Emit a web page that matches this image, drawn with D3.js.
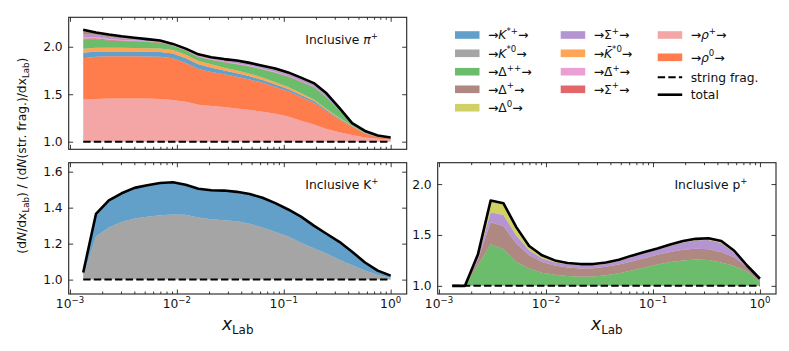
<!DOCTYPE html>
<html>
<head>
<meta charset="utf-8">
<script src="https://cdn.jsdelivr.net/npm/d3@7"></script>
<style>
  body { margin: 0; background: #fff; }
  svg { display: block; font-family: "DejaVu Sans", sans-serif; }
</style>
</head>
<body>
<svg id="chart" width="789" height="351"></svg>
<script>
// bin centres (x_Lab)
const xLab = [0.00133, 0.00175, 0.00231, 0.00304, 0.00401, 0.00528, 0.00696, 0.00918, 0.0121, 0.0159,
    0.0210, 0.0277, 0.0364, 0.0480, 0.0633, 0.0834, 0.110, 0.145, 0.191, 0.251, 0.331, 0.436, 0.575, 0.757, 1.0];

// Inclusive pi+ : contributions on top of string fragmentation (=1)
const piRhoPlus = [.445, .45, .455, .455, .455, .455, .45, .44, .42, .39, .375, .365, .35, .335, .315, .295, .265, .22, .18, .135, .1, .07, .045, .03, .02];
const piRho0 = [.433, .445, .445, .445, .445, .443, .445, .44, .41, .375, .36, .345, .335, .32, .305, .28, .265, .25, .23, .185, .135, .09, .04, .02, .012];
const piKstarPlus = [.06, .055, .05, .05, .05, .05, .05, .05, .05, .05, .045, .04, .035, .033, .03, .028, .025, .022, .02, .015, .01, .005, .004, .003, .003];
const piKbarStar0 = [.04, .04, .04, .04, .038, .037, .036, .035, .035, .035, .035, .03, .03, .028, .025, .022, .02, .018, .015, .01, .007, .004, .003, .002, .002];
const piDeltaPP = [.10, .09, .075, .07, .068, .065, .06, .045, .045, .04, .045, .055, .065, .075, .085, .10, .11, .12, .13, .12, .08, .02, .012, .006, .004];
const piSigmabarP = [.01, .01, .008, .006, .005, .005, .005, .004, .004, .004, .004, .004, .004, .004, .004, .004, .003, .003, .003, .002, .002, .001, .002, .001, .001];
const piDeltabarP = [.01, .01, .008, .006, .005, .005, .005, .004, .004, .004, .004, .004, .004, .004, .004, .004, .003, .003, .003, .002, .002, .001, .002, .001, .001];
const piSigmaP = [.03, .025, .02, .018, .015, .012, .01, .008, .008, .008, .01, .012, .015, .017, .018, .02, .022, .025, .025, .025, .015, .003, .002, .001, .001];
const piDeltaP = [.052, .025, .027, .02, .014, .008, .004, .004, .004, .014, .012, .015, .017, .014, .014, .017, .017, .014, .011, .016, .006, .001, .003, .001, .001];

// Inclusive K+
const kKstar0 = [.02, .24, .29, .32, .34, .35, .358, .362, .36, .345, .335, .33, .325, .31, .29, .265, .24, .205, .175, .145, .11, .08, .05, .025, .01];
const kKstarPlus = [.02, .125, .15, .16, .17, .175, .179, .179, .167, .16, .162, .165, .163, .166, .165, .16, .15, .145, .125, .11, .10, .075, .045, .025, .012];

// Inclusive p+
const pDeltaPP = [0, 0, .2, .408, .36, .235, .17, .13, .11, .098, .09, .092, .105, .125, .15, .18, .21, .235, .25, .258, .255, .23, .195, .14, .04];
const pDeltaP = [0, 0, .055, .218, .225, .18, .13, .105, .09, .082, .08, .08, .082, .085, .09, .092, .095, .098, .105, .107, .105, .10, .085, .045, .016];
const pSigmaP = [0, 0, .03, .097, .11, .08, .05, .037, .033, .032, .032, .03, .03, .035, .045, .048, .05, .06, .07, .082, .09, .09, .045, .01, .006];
const pDelta0 = [0, 0, .022, .115, .116, .082, .041, .028, .017, .013, .012, .012, .012, .012, .012, .013, .012, .013, .015, .015, .018, .02, .02, .005, .008];

const piTicks = [1.0, 1.5, 2.0];
const kTicks = [1.0, 1.2, 1.4, 1.6];
const pTicks = [1.0, 1.5, 2.0];
const xMajorTicks = [1e-3, 1e-2, 1e-1, 1e0];
const xTickExp = ['\u22123', '\u22122', '\u22121', '0'];

// channel colours (tab10 style), drawn with alpha 0.7
const colors = {
    KstarPlus: '#1f77b4', Kstar0: '#7f7f7f', DeltaPP: '#2ca02c', DeltaP: '#8c564b', Delta0: '#bcbd22',
    SigmaP: '#9467bd', KbarStar0: '#ff7f0e', DeltabarP: '#e377c2', SigmabarP: '#d62728',
    RhoPlus: '#f08080', Rho0: '#ff4500'
};

// legend labels, mathtext-like pieces
const legendLabels = {
    KstarPlus: [{t: '\u2192'}, {t: 'K', it: 1}, {t: '*+', sup: 1}, {t: '\u2192'}],
    Kstar0: [{t: '\u2192'}, {t: 'K', it: 1}, {t: '*0', sup: 1}, {t: '\u2192'}],
    DeltaPP: [{t: '\u2192\u0394'}, {t: '++', sup: 1}, {t: '\u2192'}],
    DeltaP: [{t: '\u2192\u0394'}, {t: '+', sup: 1}, {t: '\u2192'}],
    Delta0: [{t: '\u2192\u0394'}, {t: '0', sup: 1}, {t: '\u2192'}],
    SigmaP: [{t: '\u2192\u03a3'}, {t: '+', sup: 1}, {t: '\u2192'}],
    KbarStar0: [{t: '\u2192'}, {t: 'K\u0304', it: 1}, {t: '*0', sup: 1}, {t: '\u2192'}],
    DeltabarP: [{t: '\u2192\u0394\u0304'}, {t: '+', sup: 1}, {t: '\u2192'}],
    SigmabarP: [{t: '\u2192\u03a3\u0304'}, {t: '+', sup: 1}, {t: '\u2192'}],
    RhoPlus: [{t: '\u2192'}, {t: '\u03c1', it: 1}, {t: '+', sup: 1}, {t: '\u2192'}],
    Rho0: [{t: '\u2192'}, {t: '\u03c1', it: 1}, {t: '0', sup: 1}, {t: '\u2192'}]
};
const legendCol1 = ['KstarPlus', 'Kstar0', 'DeltaPP', 'DeltaP', 'Delta0'];
const legendCol2 = ['SigmaP', 'KbarStar0', 'DeltabarP', 'SigmabarP'];
const legendCol3 = ['RhoPlus', 'Rho0'];

const svg = d3.select('#chart');
const xDomain = [Math.pow(10, -3.012), Math.pow(10, 0.15)];
const fs = 12.3;

// writes pieces of text with italic / sup / sub
function richText(text, parts, size) {
    let shift = 0;
    parts.forEach(p => {
        const target = p.sup ? -0.42 * size : (p.sub ? 0.25 * size : 0);
        const ts = text.append('tspan').text(p.t).attr('dy', target - shift);
        shift = target;
        if (p.it) ts.attr('font-style', 'italic');
        if (p.sup || p.sub) ts.attr('font-size', size * 0.7);
    });
}

function drawPanel(p) {
    const [left, top, w, h] = p.box;
    const g = svg.append('g').attr('transform', `translate(${left},${top})`);
    const x = d3.scaleLog().domain(xDomain).range([0, w]);
    const y = d3.scaleLinear().domain(p.yDomain).range([h, 0]);

    // stacked contributions above 1
    const rows = xLab.map((xv, i) => {
        const r = {x: xv};
        p.layers.forEach(l => r[l.key] = l.values[i]);
        return r;
    });
    const keys = p.layers.map(l => l.key);
    const series = d3.stack().keys(keys)(rows);
    const area = d3.area()
        .x(d => x(d.data.x))
        .y0(d => y(1 + d[0]))
        .y1(d => y(1 + d[1]));
    g.selectAll('path.layer').data(series).join('path')
        .attr('class', 'layer')
        .attr('d', area)
        .attr('fill', d => colors[d.key])
        .attr('fill-opacity', 0.7);

    // string fragmentation baseline
    g.append('line')
        .attr('x1', x(xLab[0])).attr('x2', x(xLab[xLab.length - 1]))
        .attr('y1', y(1)).attr('y2', y(1))
        .attr('stroke', 'black').attr('stroke-width', 2)
        .attr('stroke-dasharray', '7.4,3.2');

    // total
    const line = d3.line()
        .x(d => x(d.x))
        .y(d => y(1 + d3.sum(keys, k => d[k])));
    g.append('path')
        .attr('d', line(rows))
        .attr('fill', 'none')
        .attr('stroke', 'black')
        .attr('stroke-width', 2.6)
        .attr('stroke-linejoin', 'round');

    // ticks, all pointing inwards
    const minors = [];
    [-3, -2, -1].forEach(e => d3.range(2, 10).forEach(k => minors.push(k * Math.pow(10, e))));
    const addAxis = (axis, tf) => {
        const a = g.append('g').attr('transform', tf).call(axis);
        a.select('.domain').remove();
        a.selectAll('line').attr('stroke', '#222').attr('stroke-width', 0.9);
        return a;
    };
    addAxis(d3.axisBottom(x).tickValues(xMajorTicks).tickSize(-4.5).tickFormat(''), `translate(0,${h})`);
    addAxis(d3.axisBottom(x).tickValues(minors).tickSize(-2.5).tickFormat(''), `translate(0,${h})`);
    addAxis(d3.axisTop(x).tickValues(xMajorTicks).tickSize(-4.5).tickFormat(''), 'translate(0,0)');
    addAxis(d3.axisTop(x).tickValues(minors).tickSize(-2.5).tickFormat(''), 'translate(0,0)');
    addAxis(d3.axisRight(y).tickValues(p.yTicks).tickSize(-4.5).tickFormat(''), `translate(${w},0)`);
    const ya = addAxis(d3.axisLeft(y).tickValues(p.yTicks).tickSize(-4.5).tickPadding(6).tickFormat(d3.format('.1f')), 'translate(0,0)');
    ya.selectAll('text').attr('font-size', fs).attr('fill', '#111').attr('font-family', 'DejaVu Sans');

    // frame
    g.append('rect').attr('width', w).attr('height', h)
        .attr('fill', 'none').attr('stroke', '#222').attr('stroke-width', 1.1);

    if (p.showX) {
        xMajorTicks.forEach((v, i) => {
            const t = g.append('text')
                .attr('x', x(v)).attr('y', h + 14)
                .attr('text-anchor', 'middle')
                .attr('font-size', fs).attr('fill', '#111');
            richText(t, [{t: '10'}, {t: xTickExp[i], sup: 1}], fs);
        });
        const xl = g.append('text')
            .attr('x', w / 2).attr('y', h + 36)
            .attr('text-anchor', 'middle')
            .attr('font-size', 17).attr('fill', '#111');
        richText(xl, [{t: 'x', it: 1}, {t: 'Lab', sub: 1}], 17);
    }

    // panel label, left aligned at 70% of the width
    const title = g.append('text')
        .attr('x', w * 0.7).attr('y', 26.5)
        .attr('font-size', fs).attr('fill', '#111');
    richText(title, p.title, fs);
}

const layer = (key, values) => ({key, values});

drawPanel({
    box: [68.7, 17.3, 338, 132], yDomain: [0.92, 2.31], yTicks: piTicks, showX: false,
    title: [{t: 'Inclusive '}, {t: '\u03c0', it: 1}, {t: '+', sup: 1}],
    layers: [layer('RhoPlus', piRhoPlus), layer('Rho0', piRho0), layer('KstarPlus', piKstarPlus),
        layer('KbarStar0', piKbarStar0), layer('DeltaPP', piDeltaPP), layer('SigmabarP', piSigmabarP),
        layer('DeltabarP', piDeltabarP), layer('SigmaP', piSigmaP), layer('DeltaP', piDeltaP)]
});
drawPanel({
    box: [68.7, 162.7, 338, 131.3], yDomain: [0.92, 1.65], yTicks: kTicks, showX: true,
    title: [{t: 'Inclusive K'}, {t: '+', sup: 1}],
    layers: [layer('Kstar0', kKstar0), layer('KstarPlus', kKstarPlus)]
});
drawPanel({
    box: [437.7, 162.7, 338.3, 131.3], yDomain: [0.92, 2.21], yTicks: pTicks, showX: true,
    title: [{t: 'Inclusive p'}, {t: '+', sup: 1}],
    layers: [layer('DeltaPP', pDeltaPP), layer('DeltaP', pDeltaP), layer('SigmaP', pSigmaP), layer('Delta0', pDelta0)]
});

// shared y label
const yl = svg.append('text')
    .attr('transform', 'translate(26,155.7) rotate(-90)')
    .attr('text-anchor', 'middle')
    .attr('font-size', fs).attr('fill', '#111');
richText(yl, [{t: '(d'}, {t: 'N', it: 1}, {t: '/dx'}, {t: 'Lab', sub: 1}, {t: ') / (d'}, {t: 'N', it: 1},
    {t: '(str. frag.)/dx'}, {t: 'Lab', sub: 1}, {t: ')'}], fs);

// legend
const legend = svg.append('g');
const legendCols = [
    {keys: legendCol1, x: 455, rows: [35, 53.3, 71.7, 89.3, 107.7]},
    {keys: legendCol2, x: 560.7, rows: [35, 53.3, 71.7, 89.3]},
    {keys: legendCol3, x: 657.7, rows: [35, 57.3, 77.3, 94.7]}
];
legendCols.forEach(col => {
    col.keys.forEach((k, i) => {
        const cy = col.rows[i];
        legend.append('rect')
            .attr('x', col.x).attr('y', cy - 3.8).attr('width', 24.5).attr('height', 7.6)
            .attr('fill', colors[k]).attr('fill-opacity', 0.7);
        const t = legend.append('text')
            .attr('x', col.x + 33).attr('y', cy + 4.3)
            .attr('font-size', fs).attr('fill', '#111');
        richText(t, legendLabels[k], fs);
    });
});
const col3 = legendCols[2];
legend.append('line')
    .attr('x1', col3.x).attr('x2', col3.x + 24.5)
    .attr('y1', col3.rows[2]).attr('y2', col3.rows[2])
    .attr('stroke', 'black').attr('stroke-width', 2).attr('stroke-dasharray', '7.4,3.2');
legend.append('text').attr('x', col3.x + 33).attr('y', col3.rows[2] + 4.3)
    .attr('font-size', fs).attr('fill', '#111').text('string frag.');
legend.append('line')
    .attr('x1', col3.x).attr('x2', col3.x + 24.5)
    .attr('y1', col3.rows[3]).attr('y2', col3.rows[3])
    .attr('stroke', 'black').attr('stroke-width', 2.6);
legend.append('text').attr('x', col3.x + 33).attr('y', col3.rows[3] + 4.3)
    .attr('font-size', fs).attr('fill', '#111').text('total');
</script>
</body>
</html>
